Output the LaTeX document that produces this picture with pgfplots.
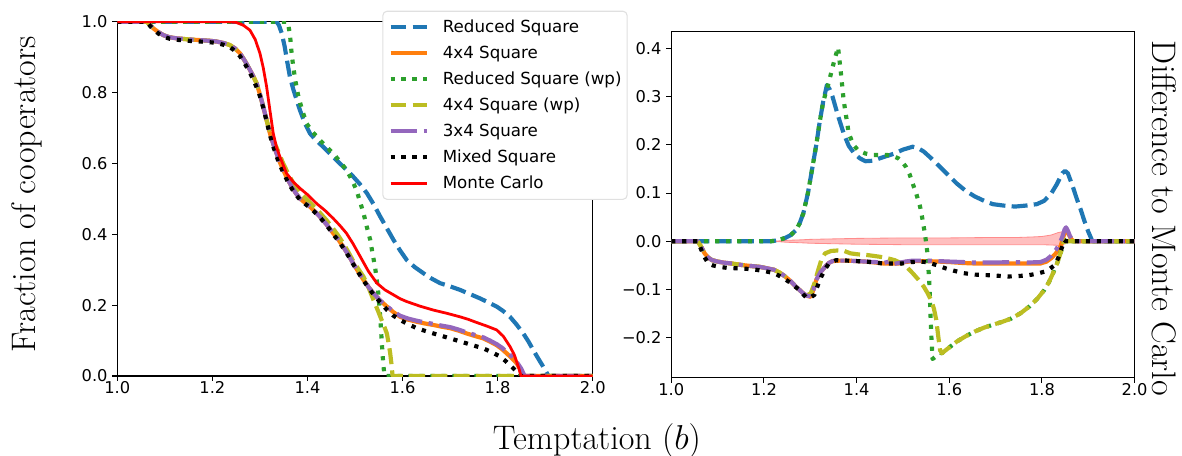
\documentclass[border=0pt]{standalone}
\usepackage{fontspec}
\newfontfamily\dejavu{DejaVu Sans}
\usepackage{pgfplots}
\pgfplotsset{compat=1.18}
\definecolor{tabblue}{HTML}{1F77B4}
\definecolor{taborange}{HTML}{FF7F0E}
\definecolor{tabgreen}{HTML}{2CA02C}
\definecolor{tabolive}{HTML}{BCBD22}
\definecolor{tabpurple}{HTML}{9467BD}
\pgfplotsset{
  common/.style={
    scale only axis, tick pos=left, tick align=outside, major tick length=3.5pt,
    tick style={line width=0.8pt, black},
    axis line style={line width=0.8pt, black},
    xmin=1, xmax=2, xtick={1,1.2,1.4,1.6,1.8,2}, xticklabels={1.0,1.2,1.4,1.6,1.8,2.0},
    tick label style={font=\dejavu\fontsize{11.7}{14}\selectfont},
    xticklabel style={yshift=3pt},
    legend image code/.code={\draw[##1] (0pt,0pt) -- (26.6pt,0pt);},
  },
  rs/.style={tabblue, line width=3pt, dash pattern=on 11.5pt off 4.5pt, line join=round},
  sq/.style={taborange, line width=3pt, line join=round},
  rswp/.style={tabgreen, line width=3pt, dash pattern=on 3pt off 4.9pt, line join=round},
  sqwp/.style={tabolive, line width=3pt, dash pattern=on 11.5pt off 4.5pt, line join=round},
  sthree/.style={tabpurple, line width=3pt, dash pattern=on 19.2pt off 4.8pt on 3pt off 4.8pt, line join=round},
  mixed/.style={black, line width=3pt, dash pattern=on 3pt off 4.9pt, line join=round},
  mc/.style={red, line width=2pt, line join=round},
}
\begin{document}
\begin{tikzpicture}
\useasboundingbox (0,0) rectangle (851.04pt,327.6pt);
% ---------------- left axis ----------------
\begin{axis}[common,
  at={(84.46pt,56.88pt)}, anchor=south west, width=342.3pt, height=255.1pt,
  ymin=0, ymax=1, ytick={0,0.2,0.4,0.6,0.8,1}, yticklabels={0.0,0.2,0.4,0.6,0.8,1.0},
  legend cell align=left,
  legend style={at={(axis description cs:0.5574,1.031)}, anchor=north west,
    draw=black!12, line width=0.8pt, rounded corners=3pt, fill=white,
    inner xsep=4pt, inner ysep=7pt, row sep=9.5pt, column sep=9.6pt,
    font=\dejavu\fontsize{12}{14}\selectfont,
    nodes={inner sep=0pt, text height=8.6pt, text depth=0.6pt}},
]
\addplot[rs] coordinates {(1.0,1)(1.335,1.0)(1.340,0.99)(1.346,0.967)(1.352,0.93)(1.357,0.89)(1.363,0.845)(1.37,0.81)(1.377,0.78)(1.384,0.751)(1.394,0.715)(1.405,0.685)(1.419,0.664)(1.433,0.647)(1.45,0.624)(1.468,0.600)(1.482,0.582)(1.496,0.563)(1.51,0.542)(1.525,0.516)(1.539,0.485)(1.553,0.450)(1.567,0.417)(1.581,0.384)(1.595,0.354)(1.609,0.327)(1.626,0.307)(1.644,0.290)(1.661,0.275)(1.679,0.262)(1.70,0.253)(1.721,0.243)(1.742,0.231)(1.763,0.219)(1.78,0.208)(1.798,0.196)(1.812,0.183)(1.826,0.167)(1.84,0.145)(1.854,0.120)(1.865,0.097)(1.875,0.073)(1.886,0.048)(1.896,0.026)(1.902,0.012)(1.907,0)(2.0,0)};
\addlegendentry{Reduced Square}
\addplot[sq] coordinates {(1.0,1)(1.062,1.0)(1.069,0.99)(1.076,0.981)(1.087,0.97)(1.097,0.962)(1.11,0.956)(1.125,0.953)(1.15,0.95)(1.174,0.948)(1.195,0.946)(1.209,0.944)(1.223,0.94)(1.237,0.934)(1.248,0.924)(1.258,0.911)(1.268,0.89)(1.279,0.864)(1.286,0.846)(1.293,0.826)(1.300,0.795)(1.307,0.760)(1.314,0.722)(1.321,0.685)(1.328,0.655)(1.335,0.628)(1.342,0.603)(1.349,0.581)(1.358,0.556)(1.367,0.534)(1.375,0.517)(1.384,0.501)(1.395,0.489)(1.405,0.478)(1.415,0.465)(1.426,0.450)(1.44,0.428)(1.454,0.403)(1.465,0.385)(1.475,0.365)(1.486,0.342)(1.496,0.318)(1.507,0.294)(1.518,0.271)(1.529,0.250)(1.539,0.233)(1.553,0.213)(1.567,0.196)(1.581,0.180)(1.595,0.167)(1.612,0.159)(1.630,0.153)(1.648,0.148)(1.665,0.144)(1.683,0.139)(1.700,0.135)(1.718,0.128)(1.735,0.120)(1.752,0.113)(1.770,0.106)(1.784,0.097)(1.798,0.087)(1.809,0.076)(1.819,0.064)(1.830,0.05)(1.840,0.036)(1.847,0.02)(1.853,0)(2.0,0)};
\addlegendentry{4x4 Square}
\addplot[rswp] coordinates {(1.0,1)(1.358,1.0)(1.363,0.967)(1.366,0.92)(1.370,0.873)(1.375,0.83)(1.381,0.788)(1.389,0.75)(1.398,0.713)(1.41,0.69)(1.426,0.666)(1.44,0.647)(1.454,0.628)(1.468,0.606)(1.482,0.581)(1.493,0.555)(1.503,0.525)(1.511,0.49)(1.518,0.459)(1.525,0.42)(1.532,0.384)(1.537,0.345)(1.542,0.309)(1.546,0.27)(1.549,0.233)(1.551,0.2)(1.553,0.167)(1.556,0.102)(1.558,0.06)(1.560,0.026)(1.562,0)(2.0,0)};
\addlegendentry{Reduced Square (wp)}
\addplot[sqwp] coordinates {(1.0,1)(1.062,1.0)(1.069,0.99)(1.076,0.981)(1.087,0.97)(1.097,0.962)(1.11,0.956)(1.125,0.953)(1.15,0.95)(1.174,0.948)(1.195,0.946)(1.209,0.944)(1.223,0.94)(1.237,0.934)(1.248,0.924)(1.258,0.911)(1.268,0.89)(1.279,0.864)(1.286,0.846)(1.293,0.826)(1.300,0.795)(1.307,0.760)(1.314,0.722)(1.321,0.69)(1.328,0.665)(1.335,0.645)(1.342,0.622)(1.349,0.600)(1.358,0.575)(1.367,0.552)(1.375,0.535)(1.384,0.518)(1.395,0.503)(1.405,0.49)(1.415,0.476)(1.426,0.461)(1.44,0.440)(1.454,0.416)(1.465,0.396)(1.475,0.375)(1.486,0.350)(1.496,0.325)(1.507,0.302)(1.518,0.280)(1.529,0.248)(1.539,0.214)(1.548,0.185)(1.556,0.158)(1.562,0.138)(1.567,0.120)(1.571,0.09)(1.574,0.064)(1.577,0.03)(1.579,0)(2.0,0)};
\addlegendentry{4x4 Square (wp)}
\addplot[sthree] coordinates {(1.0,1)(1.062,1.0)(1.069,0.99)(1.076,0.981)(1.087,0.97)(1.097,0.962)(1.11,0.956)(1.125,0.953)(1.15,0.95)(1.174,0.948)(1.195,0.946)(1.209,0.944)(1.223,0.94)(1.237,0.934)(1.248,0.924)(1.258,0.911)(1.268,0.89)(1.279,0.864)(1.286,0.846)(1.293,0.826)(1.300,0.795)(1.307,0.760)(1.314,0.722)(1.321,0.685)(1.328,0.655)(1.335,0.628)(1.342,0.603)(1.349,0.581)(1.358,0.556)(1.367,0.534)(1.375,0.517)(1.384,0.501)(1.395,0.489)(1.405,0.478)(1.415,0.465)(1.426,0.450)(1.44,0.428)(1.454,0.403)(1.465,0.385)(1.475,0.365)(1.486,0.342)(1.496,0.318)(1.507,0.294)(1.518,0.271)(1.529,0.250)(1.539,0.233)(1.553,0.213)(1.567,0.197)(1.581,0.182)(1.595,0.170)(1.612,0.162)(1.630,0.156)(1.648,0.151)(1.665,0.147)(1.683,0.142)(1.700,0.138)(1.718,0.131)(1.735,0.123)(1.752,0.116)(1.770,0.109)(1.784,0.100)(1.798,0.090)(1.809,0.080)(1.819,0.068)(1.830,0.055)(1.840,0.040)(1.849,0.022)(1.857,0)(2.0,0)};
\addlegendentry{3x4 Square}
\addplot[mixed] coordinates {(1.0,1)(1.062,1.0)(1.069,0.988)(1.076,0.978)(1.087,0.966)(1.097,0.958)(1.11,0.952)(1.125,0.949)(1.15,0.946)(1.174,0.944)(1.195,0.942)(1.209,0.940)(1.223,0.935)(1.237,0.928)(1.248,0.917)(1.258,0.903)(1.268,0.882)(1.279,0.856)(1.286,0.836)(1.293,0.815)(1.300,0.79)(1.307,0.757)(1.314,0.72)(1.321,0.680)(1.328,0.648)(1.335,0.62)(1.342,0.595)(1.349,0.575)(1.358,0.55)(1.367,0.529)(1.375,0.513)(1.384,0.498)(1.395,0.486)(1.405,0.475)(1.415,0.463)(1.426,0.448)(1.44,0.426)(1.454,0.400)(1.465,0.382)(1.475,0.362)(1.486,0.339)(1.496,0.316)(1.507,0.292)(1.518,0.269)(1.529,0.248)(1.539,0.230)(1.553,0.208)(1.567,0.187)(1.581,0.170)(1.595,0.158)(1.612,0.146)(1.630,0.135)(1.648,0.127)(1.665,0.120)(1.683,0.113)(1.700,0.106)(1.718,0.099)(1.735,0.092)(1.752,0.085)(1.770,0.078)(1.788,0.067)(1.805,0.055)(1.816,0.043)(1.826,0.031)(1.835,0.019)(1.840,0.012)(1.847,0)(2.0,0)};
\addlegendentry{Mixed Square}
\addplot[mc] coordinates {(1.0,1.0)(1.23,1.0)(1.25,0.998)(1.265,0.99)(1.279,0.976)(1.29,0.95)(1.300,0.911)(1.307,0.87)(1.314,0.817)(1.321,0.75)(1.328,0.685)(1.335,0.645)(1.342,0.619)(1.356,0.572)(1.37,0.548)(1.384,0.530)(1.40,0.512)(1.419,0.487)(1.437,0.467)(1.454,0.445)(1.468,0.425)(1.482,0.403)(1.496,0.373)(1.511,0.337)(1.528,0.296)(1.546,0.262)(1.563,0.243)(1.581,0.229)(1.595,0.218)(1.609,0.210)(1.637,0.197)(1.665,0.186)(1.693,0.177)(1.721,0.167)(1.738,0.160)(1.756,0.151)(1.777,0.141)(1.798,0.130)(1.812,0.112)(1.826,0.083)(1.835,0.06)(1.840,0.040)(1.845,0.02)(1.849,0)(2.0,0)};
\addlegendentry{Monte Carlo}
\end{axis}
% ---------------- right axis ----------------
\begin{axis}[common,
  at={(483.3pt,55.66pt)}, anchor=south west, width=333.6pt, height=249.1pt,
  ymin=-0.2827, ymax=0.4344, ytick={-0.2,-0.1,0,0.1,0.2,0.3,0.4},
  yticklabels={−0.2,−0.1,0.0,0.1,0.2,0.3,0.4},
]
\addplot[fill=red, fill opacity=0.25, draw=red!45, line width=0.6pt] coordinates {(1.22,0)(1.25,0.002)(1.28,0.003)(1.3,0.004)(1.35,0.005)(1.4,0.006)(1.45,0.0065)(1.5,0.007)(1.55,0.007)(1.6,0.007)(1.65,0.0075)(1.7,0.008)(1.75,0.008)(1.78,0.009)(1.8,0.01)(1.82,0.013)(1.835,0.018)(1.845,0.02)(1.85,0)(1.846,-0.008)(1.84,-0.01)(1.83,-0.008)(1.8,-0.007)(1.7,-0.007)(1.6,-0.007)(1.5,-0.007)(1.45,-0.0065)(1.4,-0.006)(1.35,-0.005)(1.3,-0.004)(1.28,-0.003)(1.25,-0.002)(1.22,0)};
\addplot[rs] coordinates {(1.0,0)(1.214,0)(1.23,0.002)(1.246,0.007)(1.258,0.013)(1.269,0.023)(1.277,0.037)(1.285,0.058)(1.295,0.10)(1.305,0.155)(1.313,0.20)(1.320,0.245)(1.328,0.29)(1.336,0.324)(1.342,0.315)(1.348,0.30)(1.36,0.26)(1.372,0.224)(1.383,0.198)(1.395,0.182)(1.407,0.172)(1.419,0.166)(1.435,0.167)(1.450,0.172)(1.466,0.177)(1.482,0.182)(1.50,0.19)(1.521,0.196)(1.533,0.193)(1.545,0.186)(1.56,0.173)(1.576,0.158)(1.596,0.139)(1.616,0.120)(1.635,0.105)(1.655,0.093)(1.675,0.084)(1.694,0.077)(1.718,0.074)(1.742,0.072)(1.765,0.074)(1.789,0.077)(1.805,0.084)(1.820,0.099)(1.832,0.118)(1.844,0.141)(1.850,0.146)(1.856,0.141)(1.866,0.115)(1.876,0.086)(1.884,0.065)(1.891,0.044)(1.90,0.02)(1.909,0)(2.0,0)};
\addplot[sq] coordinates {(1.0,0)(1.057,0)(1.065,-0.012)(1.072,-0.025)(1.080,-0.034)(1.088,-0.039)(1.10,-0.042)(1.112,-0.044)(1.13,-0.046)(1.151,-0.049)(1.17,-0.051)(1.191,-0.053)(1.207,-0.056)(1.222,-0.059)(1.234,-0.065)(1.246,-0.073)(1.258,-0.083)(1.269,-0.094)(1.277,-0.101)(1.285,-0.108)(1.293,-0.113)(1.301,-0.115)(1.307,-0.10)(1.313,-0.080)(1.322,-0.064)(1.332,-0.053)(1.34,-0.045)(1.348,-0.041)(1.364,-0.040)(1.380,-0.040)(1.40,-0.041)(1.419,-0.042)(1.44,-0.044)(1.458,-0.046)(1.475,-0.046)(1.490,-0.046)(1.505,-0.043)(1.521,-0.041)(1.55,-0.041)(1.576,-0.042)(1.6,-0.043)(1.63,-0.045)(1.655,-0.046)(1.7,-0.046)(1.734,-0.046)(1.77,-0.046)(1.797,-0.046)(1.810,-0.042)(1.820,-0.035)(1.830,-0.025)(1.840,-0.011)(1.845,0.005)(1.849,0.018)(1.852,0.023)(1.856,0.018)(1.860,0.010)(1.864,0.004)(1.868,0)(2.0,0)};
\addplot[rswp] coordinates {(1.0,0)(1.214,0)(1.23,0.002)(1.246,0.007)(1.258,0.013)(1.269,0.023)(1.277,0.037)(1.285,0.058)(1.295,0.10)(1.305,0.155)(1.313,0.20)(1.320,0.245)(1.328,0.29)(1.336,0.315)(1.344,0.345)(1.352,0.375)(1.360,0.402)(1.366,0.35)(1.372,0.293)(1.383,0.224)(1.393,0.2)(1.403,0.189)(1.419,0.182)(1.435,0.179)(1.45,0.179)(1.466,0.179)(1.478,0.177)(1.490,0.172)(1.498,0.165)(1.506,0.155)(1.514,0.14)(1.521,0.120)(1.529,0.098)(1.537,0.072)(1.541,0.052)(1.545,0.030)(1.549,0.005)(1.553,-0.025)(1.557,-0.087)(1.561,-0.191)(1.564,-0.244)(1.572,-0.238)(1.580,-0.231)(1.584,-0.232)(1.60,-0.22)(1.616,-0.208)(1.635,-0.197)(1.655,-0.187)(1.675,-0.179)(1.694,-0.173)(1.714,-0.167)(1.734,-0.160)(1.754,-0.149)(1.773,-0.135)(1.79,-0.119)(1.805,-0.101)(1.815,-0.085)(1.824,-0.066)(1.833,-0.045)(1.840,-0.025)(1.845,-0.01)(1.848,0.003)(1.852,0)(2.0,0)};
\addplot[sqwp] coordinates {(1.0,0)(1.057,0)(1.065,-0.012)(1.072,-0.025)(1.080,-0.034)(1.088,-0.039)(1.10,-0.042)(1.112,-0.044)(1.13,-0.046)(1.151,-0.049)(1.17,-0.051)(1.191,-0.053)(1.207,-0.056)(1.222,-0.059)(1.234,-0.065)(1.246,-0.073)(1.258,-0.083)(1.269,-0.094)(1.277,-0.101)(1.285,-0.108)(1.293,-0.112)(1.301,-0.108)(1.309,-0.087)(1.317,-0.06)(1.324,-0.038)(1.332,-0.025)(1.345,-0.02)(1.36,-0.019)(1.373,-0.02)(1.387,-0.025)(1.403,-0.027)(1.419,-0.028)(1.435,-0.03)(1.450,-0.032)(1.466,-0.035)(1.482,-0.039)(1.498,-0.046)(1.51,-0.055)(1.521,-0.066)(1.533,-0.079)(1.545,-0.094)(1.553,-0.107)(1.561,-0.122)(1.567,-0.14)(1.572,-0.163)(1.576,-0.195)(1.580,-0.225)(1.584,-0.232)(1.60,-0.22)(1.616,-0.208)(1.635,-0.197)(1.655,-0.187)(1.675,-0.179)(1.694,-0.173)(1.714,-0.167)(1.734,-0.160)(1.754,-0.149)(1.773,-0.135)(1.79,-0.119)(1.805,-0.101)(1.815,-0.085)(1.824,-0.066)(1.833,-0.045)(1.840,-0.025)(1.845,-0.01)(1.848,0.003)(1.852,0)(2.0,0)};
\addplot[sthree] coordinates {(1.0,0)(1.057,0)(1.065,-0.012)(1.072,-0.025)(1.080,-0.034)(1.088,-0.039)(1.10,-0.042)(1.112,-0.044)(1.13,-0.046)(1.151,-0.049)(1.17,-0.051)(1.191,-0.053)(1.207,-0.056)(1.222,-0.059)(1.234,-0.065)(1.246,-0.073)(1.258,-0.083)(1.269,-0.094)(1.277,-0.101)(1.285,-0.108)(1.293,-0.113)(1.301,-0.114)(1.307,-0.10)(1.313,-0.080)(1.322,-0.064)(1.332,-0.053)(1.34,-0.045)(1.348,-0.041)(1.364,-0.040)(1.380,-0.040)(1.40,-0.041)(1.419,-0.042)(1.44,-0.043)(1.458,-0.045)(1.47,-0.042)(1.48,-0.047)(1.490,-0.045)(1.505,-0.042)(1.521,-0.040)(1.55,-0.040)(1.576,-0.041)(1.6,-0.042)(1.63,-0.043)(1.655,-0.044)(1.7,-0.044)(1.734,-0.043)(1.77,-0.044)(1.797,-0.043)(1.810,-0.038)(1.820,-0.030)(1.830,-0.018)(1.838,-0.005)(1.845,0.012)(1.849,0.025)(1.852,0.029)(1.856,0.022)(1.860,0.012)(1.865,0.004)(1.870,0)(2.0,0)};
\addplot[mixed] coordinates {(1.0,0)(1.057,0)(1.065,-0.018)(1.072,-0.033)(1.080,-0.046)(1.090,-0.050)(1.104,-0.053)(1.12,-0.055)(1.143,-0.056)(1.163,-0.057)(1.183,-0.059)(1.203,-0.062)(1.222,-0.066)(1.238,-0.074)(1.254,-0.084)(1.266,-0.093)(1.277,-0.101)(1.285,-0.110)(1.293,-0.118)(1.301,-0.116)(1.309,-0.111)(1.316,-0.092)(1.324,-0.073)(1.332,-0.058)(1.340,-0.046)(1.356,-0.039)(1.38,-0.040)(1.40,-0.041)(1.419,-0.042)(1.44,-0.044)(1.458,-0.046)(1.478,-0.046)(1.498,-0.046)(1.518,-0.043)(1.537,-0.042)(1.55,-0.043)(1.561,-0.046)(1.575,-0.050)(1.592,-0.056)(1.61,-0.061)(1.631,-0.066)(1.655,-0.069)(1.679,-0.070)(1.70,-0.071)(1.726,-0.073)(1.75,-0.072)(1.773,-0.070)(1.79,-0.067)(1.805,-0.063)(1.817,-0.057)(1.828,-0.049)(1.835,-0.035)(1.840,-0.021)(1.845,-0.008)(1.848,0.003)(1.852,0)(2.0,0)};
\end{axis}
% ---------------- labels ----------------
\node[rotate=90, anchor=base, font=\fontsize{24.5}{29}\selectfont] at (25.2pt,187.6pt) {Fraction of cooperators};
\node[rotate=-90, anchor=base, font=\fontsize{24.5}{29}\selectfont] at (829.5pt,170.3pt) {Difference to Monte Carlo};
\node[anchor=base, font=\fontsize{24.5}{29}\selectfont] at (429.8pt,4.2pt) {Temptation $(b)$};
\end{tikzpicture}
\end{document}
